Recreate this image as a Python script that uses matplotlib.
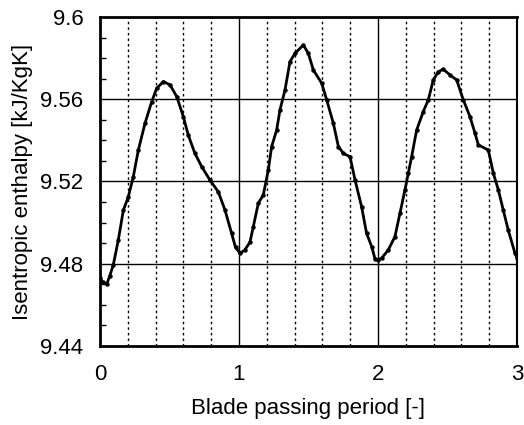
import numpy as np
import matplotlib
matplotlib.use("Agg")
import matplotlib.pyplot as plt
from matplotlib.ticker import MultipleLocator, FuncFormatter

# values
period = [0.0, 0.02, 0.048, 0.07, 0.096, 0.132, 0.168, 0.204, 0.24, 0.276,
          0.324, 0.372, 0.408, 0.456, 0.504, 0.552, 0.60, 0.635, 0.683, 0.732,
          0.791, 0.851, 0.899, 0.947, 0.975, 1.007, 1.04, 1.079, 1.103, 1.139,
          1.175, 1.211, 1.235, 1.271, 1.295, 1.331, 1.367, 1.403, 1.463, 1.499,
          1.535, 1.595, 1.631, 1.679, 1.715, 1.751, 1.799, 1.835, 1.882, 1.918,
          1.955, 1.978, 2.002, 2.026, 2.074, 2.122, 2.158, 2.194, 2.218, 2.242,
          2.278, 2.326, 2.362, 2.398, 2.434, 2.47, 2.518, 2.566, 2.614, 2.662,
          2.698, 2.722, 2.794, 2.83, 2.866, 2.901, 2.937, 2.986, 3.0]
enthalpy = [9.473, 9.471, 9.470, 9.474, 9.4795, 9.4916, 9.506, 9.5126, 9.5224, 9.5353,
            9.5483, 9.5588, 9.5653, 9.5686, 9.567, 9.5613, 9.5515, 9.5426, 9.5337, 9.5272,
            9.5207, 9.515, 9.5062, 9.4948, 9.488, 9.4852, 9.4865, 9.4905, 9.498, 9.5094,
            9.5135, 9.5256, 9.537, 9.545, 9.5548, 9.5645, 9.5783, 9.5823, 9.5864, 9.5823,
            9.5742, 9.5678, 9.5597, 9.5483, 9.537, 9.5337, 9.532, 9.5207, 9.5078, 9.4948,
            9.4883, 9.4825, 9.4819, 9.4827, 9.4867, 9.4932, 9.5045, 9.5159, 9.524, 9.532,
            9.545, 9.554, 9.5597, 9.5694, 9.5734, 9.5746, 9.5718, 9.5694, 9.5597, 9.5515,
            9.5435, 9.5378, 9.5353, 9.524, 9.5159, 9.5062, 9.4964, 9.485, 9.483]

x_ticks = [0, 1, 2, 3]
y_ticks = [9.44, 9.48, 9.52, 9.56, 9.6]
dotted_x = [0.2, 0.4, 0.6, 0.8, 1.2, 1.4, 1.6, 1.8, 2.2, 2.4, 2.6, 2.8]

plt.rcParams['font.family'] = ['Liberation Sans', 'DejaVu Sans']

fig = plt.figure(figsize=(5.24, 4.25), dpi=100)
ax = fig.add_axes([0.1908, 0.1859, 0.7958, 0.7741])

# grid: solid at the major ticks, dotted every 0.2 in x
for v in dotted_x:
    ax.axvline(v, color='black', lw=1.0, ls=(0, (1.8, 2.2)), zorder=1)
for v in x_ticks[1:-1]:
    ax.axvline(v, color='black', lw=1.0, zorder=1)
for v in y_ticks[1:-1]:
    ax.axhline(v, color='black', lw=1.0, zorder=1)

ax.plot(period, enthalpy, color='black', lw=2.0, marker='o', ms=2.2, zorder=3)

ax.set_xlim(0, 3)
ax.set_ylim(9.44, 9.6)
ax.set_xticks(x_ticks)
ax.set_yticks(y_ticks)
ax.yaxis.set_minor_locator(MultipleLocator(0.01))
ax.yaxis.set_major_formatter(FuncFormatter(lambda v, p: ('%.2f' % v).rstrip('0')))

ax.tick_params(axis='x', which='both', length=0, pad=13, labelsize=16)
ax.tick_params(axis='y', which='major', length=0, pad=12, labelsize=16)
ax.tick_params(axis='y', which='minor', direction='in', length=4, width=1)

for side in ['left', 'bottom', 'top']:
    ax.spines[side].set_linewidth(2)
ax.spines['right'].set_linewidth(1.5)

ax.set_xlabel('Blade passing period [-]', fontsize=16, labelpad=9)
ax.set_ylabel('Isentropic enthalpy [kJ/KgK]', fontsize=16, labelpad=5.5)

fig.savefig('out.png', dpi=100)
